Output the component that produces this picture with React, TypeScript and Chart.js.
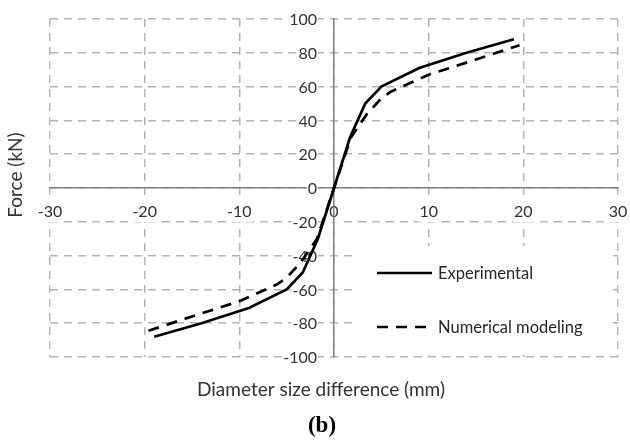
import React, { useEffect, useRef } from "react";
import { Chart, registerables } from "chart.js";

Chart.register(...registerables);

const experimentalX = [-19, -14, -9, -5, -3.3, -1.7, 0, 1.7, 3.3, 5, 9, 14, 19];
const experimentalY = [-88, -80, -71, -60, -50, -30, 0, 30, 50, 60, 71, 80, 88];

const numericalX = [-19.6, -15, -10, -6, -5, -3.5, -1.8, 0, 1.8, 3.5, 5, 6, 10, 15, 19.6];
const numericalY = [-84.5, -76, -67, -57, -53, -44, -30, 0, 30, 44, 53, 57, 67, 76, 84.5];

const xTickValues = [-30, -20, -10, 0, 10, 20, 30];
const yTickValues = [-100, -80, -60, -40, -20, 0, 20, 40, 60, 80, 100];

const seriesLabels = ["Experimental", "Numerical modeling"];
const xTitle = "Diameter size difference (mm)";
const yTitle = "Force (kN)";
const panelLabel = "(b)";

const FONT = "Lato";
const TEXT = "#333333";
const GRID = "#b4b4b4";
const AXIS = "#808080";
const TICK_FONT = `16px ${FONT}`;

const zeroPadding = (s: any) => {
  s.paddingTop = 0;
  s.paddingBottom = 0;
  s.paddingLeft = 0;
  s.paddingRight = 0;
};

const decorPlugin = {
  id: "decor",
  beforeDatasetsDraw(chart: any) {
    // y-axis tick labels, placed left of the centred vertical axis
    const ctx = chart.ctx as CanvasRenderingContext2D;
    const ys = chart.scales.y;
    const xs = chart.scales.x;
    const axisX = xs.getPixelForValue(0);
    ctx.save();
    ctx.font = TICK_FONT;
    ctx.textAlign = "right";
    ctx.textBaseline = "middle";
    ys.ticks.forEach((t: any) => {
      const label = String(t.label);
      const py = ys.getPixelForValue(t.value);
      const w = ctx.measureText(label).width;
      const right = axisX - 17;
      ctx.fillStyle = "#ffffff";
      ctx.fillRect(right - w - 1, py - 10, w + 2, 20);
      ctx.fillStyle = TEXT;
      ctx.fillText(label, right, py + 1);
    });
    ctx.restore();
  },
  afterDatasetsDraw(chart: any) {
    const ctx = chart.ctx as CanvasRenderingContext2D;
    ctx.save();
    // legend box
    ctx.fillStyle = "#ffffff";
    ctx.fillRect(352, 246, 261, 105);
    const rows = [273, 327];
    chart.data.datasets.forEach((ds: any, i: number) => {
      const y = rows[i];
      ctx.beginPath();
      ctx.setLineDash(ds.legendDash || []);
      ctx.lineWidth = ds.borderWidth;
      ctx.strokeStyle = ds.borderColor;
      ctx.moveTo(377, y);
      ctx.lineTo(432, y);
      ctx.stroke();
      ctx.setLineDash([]);
      ctx.fillStyle = "#262626";
      ctx.font = `16.5px ${FONT}`;
      ctx.textAlign = "left";
      ctx.textBaseline = "middle";
      ctx.fillText(ds.label, 438, y + 1);
    });
    ctx.restore();
  },
  afterDraw(chart: any) {
    const ctx = chart.ctx as CanvasRenderingContext2D;
    ctx.save();
    ctx.fillStyle = TEXT;
    ctx.font = `19px ${FONT}`;
    ctx.textAlign = "center";
    ctx.textBaseline = "middle";
    ctx.fillText(xTitle, 321, 390);
    ctx.save();
    ctx.translate(16, 175);
    ctx.rotate(-Math.PI / 2);
    ctx.fillText(yTitle, 0, 0);
    ctx.restore();
    ctx.fillStyle = "#000000";
    ctx.font = `bold 23px "Liberation Serif"`;
    ctx.fillText(panelLabel, 322, 426);
    ctx.restore();
  },
};

export default function App() {
  const ref = useRef<HTMLCanvasElement | null>(null);

  useEffect(() => {
    if (!ref.current) return;
    const chart = new Chart(ref.current, {
      type: "scatter",
      data: {
        datasets: [
          {
            label: seriesLabels[0],
            data: experimentalX.map((x, i) => ({ x, y: experimentalY[i] })),
            showLine: true,
            borderColor: "#000000",
            borderWidth: 2.7,
            pointRadius: 0,
            tension: 0,
            legendDash: [],
          } as any,
          {
            label: seriesLabels[1],
            data: numericalX.map((x, i) => ({ x, y: numericalY[i] })),
            showLine: true,
            borderColor: "#000000",
            borderWidth: 2.7,
            borderDash: [11, 8],
            pointRadius: 0,
            tension: 0,
            legendDash: [11, 8],
          } as any,
        ],
      },
      options: {
        animation: false,
        responsive: false,
        devicePixelRatio: 1,
        layout: { padding: { left: 50, right: 12, top: 19, bottom: 83 } },
        plugins: {
          legend: { display: false },
          tooltip: { enabled: false },
          title: { display: false },
        },
        scales: {
          x: {
            type: "linear",
            min: -30,
            max: 30,
            position: { y: 0 } as any,
            afterBuildTicks: (s: any) => {
              s.ticks = xTickValues.map((v) => ({ value: v }));
            },
            afterFit: zeroPadding,
            grid: { color: GRID, lineWidth: 1.5, drawTicks: false },
            border: { display: true, color: AXIS, width: 1.5, dash: [8, 6] },
            ticks: {
              color: TEXT,
              font: { family: FONT, size: 16 },
              padding: 14,
              maxRotation: 0,
              autoSkip: false,
              showLabelBackdrop: true,
              backdropColor: "#ffffff",
              backdropPadding: 1,
            } as any,
          },
          y: {
            type: "linear",
            min: -100,
            max: 100,
            position: { x: 0 } as any,
            afterBuildTicks: (s: any) => {
              s.ticks = yTickValues.map((v) => ({ value: v }));
            },
            afterFit: zeroPadding,
            grid: { color: GRID, lineWidth: 1.5, drawTicks: false },
            border: { display: true, color: AXIS, width: 1.5, dash: [8, 6] },
            ticks: {
              display: false,
              font: { family: FONT, size: 16 },
              autoSkip: false,
            },
          },
        },
      },
      plugins: [decorPlugin],
    });
    return () => chart.destroy();
  }, []);

  return (
    <div style={{ position: "absolute", left: 0, top: 0, width: 630, height: 440, background: "#fff" }}>
      <canvas ref={ref} width={630} height={440} style={{ display: "block", width: 630, height: 440 }} />
    </div>
  );
}
